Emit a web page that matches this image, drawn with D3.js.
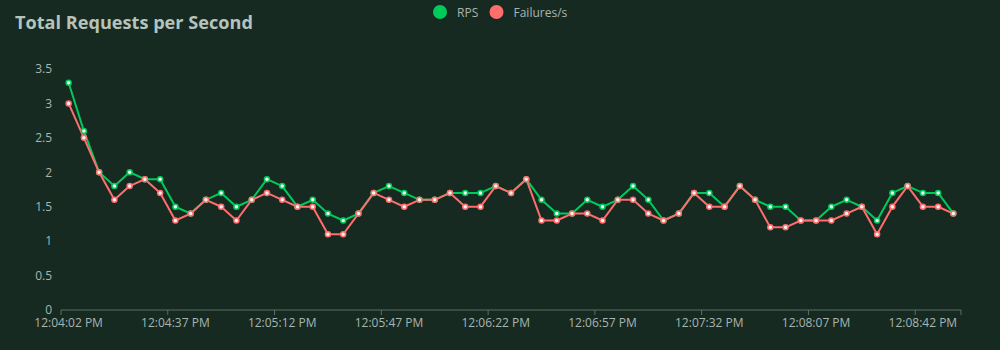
<!DOCTYPE html>
<html>
<head>
<meta charset="utf-8">
<script src="https://cdn.jsdelivr.net/npm/d3@7"></script>
<style>
  html, body { margin: 0; padding: 0; background: #162a22; }
  svg { display: block; }
</style>
</head>
<body>
<svg id="chart" width="1000" height="350"></svg>
<script>
const times = [
  "12:04:02 PM","12:04:07 PM","12:04:12 PM","12:04:17 PM","12:04:22 PM","12:04:27 PM","12:04:32 PM",
  "12:04:37 PM","12:04:42 PM","12:04:47 PM","12:04:52 PM","12:04:57 PM","12:05:02 PM","12:05:07 PM",
  "12:05:12 PM","12:05:17 PM","12:05:22 PM","12:05:27 PM","12:05:32 PM","12:05:37 PM","12:05:42 PM",
  "12:05:47 PM","12:05:52 PM","12:05:57 PM","12:06:02 PM","12:06:07 PM","12:06:12 PM","12:06:17 PM",
  "12:06:22 PM","12:06:27 PM","12:06:32 PM","12:06:37 PM","12:06:42 PM","12:06:47 PM","12:06:52 PM",
  "12:06:57 PM","12:07:02 PM","12:07:07 PM","12:07:12 PM","12:07:17 PM","12:07:22 PM","12:07:27 PM",
  "12:07:32 PM","12:07:37 PM","12:07:42 PM","12:07:47 PM","12:07:52 PM","12:07:57 PM","12:08:02 PM",
  "12:08:07 PM","12:08:12 PM","12:08:17 PM","12:08:22 PM","12:08:27 PM","12:08:32 PM","12:08:37 PM",
  "12:08:42 PM","12:08:47 PM","12:08:52 PM"
];
const rps = [
  3.3,2.6,2.0,1.8,2.0,1.9,1.9,1.5,1.4,1.6,1.7,1.5,1.6,1.9,1.8,1.5,1.6,1.4,1.3,1.4,
  1.7,1.8,1.7,1.6,1.6,1.7,1.7,1.7,1.8,1.7,1.9,1.6,1.4,1.4,1.6,1.5,1.6,1.8,1.6,1.3,
  1.4,1.7,1.7,1.5,1.8,1.6,1.5,1.5,1.3,1.3,1.5,1.6,1.5,1.3,1.7,1.8,1.7,1.7,1.4
];
const failures = [
  3.0,2.5,2.0,1.6,1.8,1.9,1.7,1.3,1.4,1.6,1.5,1.3,1.6,1.7,1.6,1.5,1.5,1.1,1.1,1.4,
  1.7,1.6,1.5,1.6,1.6,1.7,1.5,1.5,1.8,1.7,1.9,1.3,1.3,1.4,1.4,1.3,1.6,1.6,1.4,1.3,
  1.4,1.7,1.5,1.5,1.8,1.6,1.2,1.2,1.3,1.3,1.3,1.4,1.5,1.1,1.5,1.8,1.5,1.5,1.4
];
const yTicks = [0, 0.5, 1, 1.5, 2, 2.5, 3, 3.5];
const seriesNames = ["RPS", "Failures/s"];
const seriesColors = ["#00ca5a", "#ff6d6d"];
const titleText = "Total Requests per Second";

const svg = d3.select("#chart");
const bg = "#162a22";
const textColor = "#a9b5af";
const font = "'Open Sans', 'Noto Sans', sans-serif";

const margin = { left: 61, right: 39, top: 69, bottom: 40 };
const W = 1000, H = 350;

const x = d3.scaleBand().domain(times).range([margin.left, W - margin.right]).paddingInner(0).paddingOuter(0);
const y = d3.scaleLinear().domain([0, 3.5]).range([H - margin.bottom, margin.top]);
const cx = d => x(d) + x.bandwidth() / 2;

// Title
const title = svg.append("text")
  .attr("x", 15).attr("y", 29)
  .attr("fill", "#b5c3bc")
  .attr("font-family", font)
  .attr("font-weight", 700)
  .attr("font-size", 20)
  .text(titleText);
const tl = title.node().getComputedTextLength();
title.attr("font-size", 20 * 238 / tl);

// Legend
const legendX = [440, 496.5];
seriesNames.forEach((name, i) => {
  const g = svg.append("g").attr("transform", `translate(${legendX[i]},12)`);
  g.append("circle").attr("r", 7).attr("fill", seriesColors[i]);
  g.append("text").attr("x", 17).attr("y", 4.5)
    .attr("fill", textColor).attr("font-family", font).attr("font-size", 12)
    .text(name);
});

// Y axis (labels only)
const yAxis = d3.axisLeft(y).tickValues(yTicks).tickSize(0).tickPadding(9).tickFormat(d3.format("~g"));
const yg = svg.append("g").attr("transform", `translate(${margin.left},0)`).call(yAxis);
yg.select(".domain").remove();
yg.selectAll("text").attr("fill", textColor).attr("font-family", font).attr("font-size", 12);

// X axis: ticks on category boundaries, labels at category centers
const xTickIdx = d3.range(0, times.length, 7);
const xg = svg.append("g").attr("transform", `translate(0,${y(0)})`);
xg.append("line").attr("x1", margin.left).attr("x2", W - margin.right)
  .attr("stroke", "#5d6f66").attr("stroke-width", 1);
const boundaries = xTickIdx.map(i => x(times[i])).concat([W - margin.right]);
xg.selectAll("line.tick").data(boundaries).join("line")
  .attr("class", "tick")
  .attr("x1", d => d).attr("x2", d => d).attr("y1", 0).attr("y2", 5)
  .attr("stroke", "#5d6f66");
xg.selectAll("text").data(xTickIdx).join("text")
  .attr("x", i => cx(times[i])).attr("y", 17)
  .attr("text-anchor", "middle")
  .attr("fill", textColor).attr("font-family", font).attr("font-size", 12)
  .text(i => times[i]);

// Series
const data = [rps, failures];
const line = d3.line().x((d, i) => cx(times[i])).y(d => y(d));
data.forEach((vals, s) => {
  svg.append("path").datum(vals)
    .attr("fill", "none").attr("stroke", seriesColors[s]).attr("stroke-width", 2)
    .attr("stroke-linejoin", "round")
    .attr("d", line);
});
data.forEach((vals, s) => {
  svg.append("g").selectAll("circle").data(vals).join("circle")
    .attr("cx", (d, i) => cx(times[i])).attr("cy", d => y(d))
    .attr("r", 2.5)
    .attr("fill", "#f4f4f4").attr("stroke", seriesColors[s]).attr("stroke-width", 1.5);
});
</script>
</body>
</html>
